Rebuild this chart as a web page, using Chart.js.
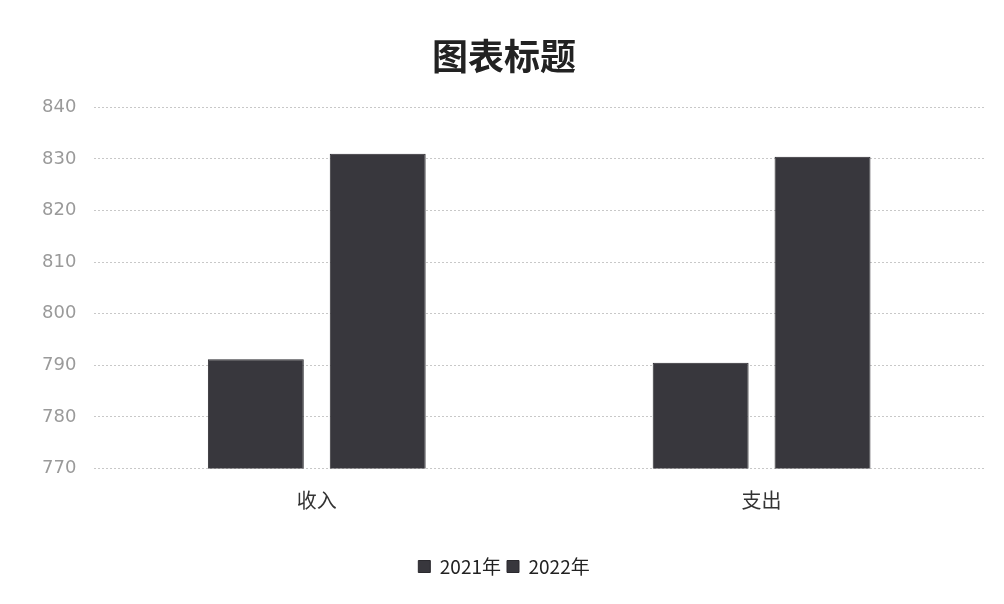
<!DOCTYPE html>
<html>
<head>
<meta charset="utf-8">
<script src="https://cdn.jsdelivr.net/npm/chart.js@4"></script>
<style>
  html, body { margin: 0; padding: 0; background: #fff; }
  #wrap { width: 1004px; height: 604px; }
</style>
</head>
<body>
<div id="wrap"><canvas id="myChart" width="1004" height="604"></canvas></div>
<script>
// data
const categories = ['收入', '支出'];
const values2021 = [791.2, 790.5];
const values2022 = [831.0, 830.4];
const seriesNames = ['2021年', '2022年'];

const ctx = document.getElementById('myChart').getContext('2d');

const chart = new Chart(ctx, {
    type: 'bar',
    data: {
        labels: categories,
        datasets: [{
            label: seriesNames[0],
            data: values2021,
            backgroundColor: '#38373d',
            borderColor: '#2a292e',
            borderWidth: 1,
        }, {
            label: seriesNames[1],
            data: values2022,
            backgroundColor: '#38373d',
            borderColor: '#2a292e',
            borderWidth: 1,
        }]
    },
    options: {
        responsive: false,
        animation: false,
        categoryPercentage: 0.548,
        barPercentage: 0.787,
        layout: { padding: { left: 24, right: 20, top: 35, bottom: 18 } },
        plugins: {
            title: {
                display: true,
                text: '图表标题',
                color: '#222',
                font: { family: 'Noto Sans CJK SC', size: 36, weight: 'bold' },
                padding: { top: 0, bottom: 29 }
            },
            legend: {
                position: 'bottom',
                title: {
                    display: true,
                    text: ' ',
                    font: { size: 17 },
                    padding: { top: 6, bottom: 0 }
                },
                labels: {
                    color: '#222',
                    font: { family: 'Noto Sans CJK SC', size: 19 },
                    boxWidth: 12,
                    boxHeight: 12,
                    padding: 6
                }
            },
            tooltip: { enabled: false }
        },
        scales: {
            x: {
                grid: { display: false },
                border: { display: false },
                ticks: {
                    color: '#333',
                    font: { family: 'Noto Sans CJK SC', size: 20 },
                    padding: 12
                }
            },
            y: {
                min: 770,
                max: 840,
                ticks: {
                    stepSize: 10,
                    color: '#9a9a9a',
                    font: { family: 'DejaVu Sans', size: 18 },
                    padding: 18
                },
                border: { display: false, dash: [2, 2] },
                grid: { color: '#c8c8c8', tickLength: 0 }
            }
        }
    }
});
</script>
</body>
</html>
